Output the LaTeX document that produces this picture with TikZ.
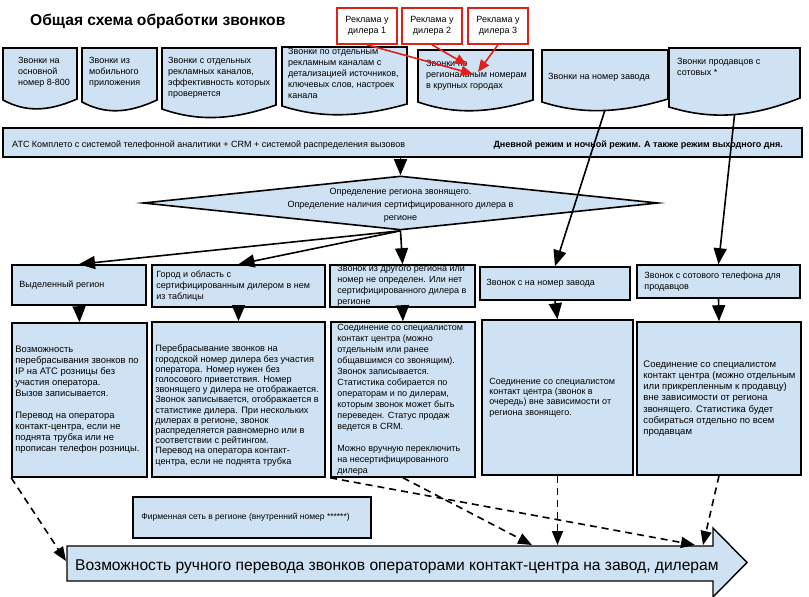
\documentclass[tikz,border=0pt]{standalone}
\usepackage{fontspec}
\setmainfont{Liberation Sans}
\usetikzlibrary{arrows.meta,shapes.geometric}
\definecolor{callblue}{HTML}{CFE2F3}
\definecolor{adred}{HTML}{E0201B}
\newcommand{\callsheet}[6]{
	\draw[sheet] (#2,#3) -- (#4,#3) -- (#4,#6) .. controls ({#2+0.6*(#4-#2)},{#5+12}) and ({#2+0.3*(#4-#2)},{#5+12}) .. (#2,#5) -- cycle;
	\coordinate (#1) at ({(#2+#4)/2},{#5+8});
}
\begin{document}
\begin{tikzpicture}[x=1pt,y=-1pt,
		every node/.style={inner sep=0pt,font=\fontsize{9}{11}\selectfont},
		sheet/.style={draw=black,line width=1.6pt,fill=callblue},
		callbox/.style={draw=black,line width=1.6pt,fill=callblue},
		regiondiamond/.style={diamond,draw=black,line width=1.6pt,fill=callblue},
		adbox/.style={draw=adred,line width=1.6pt,fill=white,align=center,minimum width=60pt,minimum height=36pt},
		boxtext/.style={anchor=west,align=left},
		sheettext/.style={anchor=north west,align=left},
		flow/.style={draw=black,line width=1.6pt,-{Triangle[length=16pt,width=13pt]}},
		adflow/.style={draw=adred,line width=1.6pt,-{Triangle[length=12pt,width=10pt]}},
		handover/.style={draw=black,line width=1.6pt,dash pattern=on 7pt off 5pt,-{Triangle[length=14pt,width=11pt]}}]
	\useasboundingbox (0,0) rectangle (809,597);
	\node[anchor=base west,font=\fontsize{15.6}{18}\selectfont\bfseries] (title) at (30,25) {Общая схема обработки звонков};
	\callsheet{sheet1}{3}{48}{77}{100}{99}
	\node[sheettext] (sheet1t) at (18,57) {Звонки на\\основной\\номер 8-800};
	\callsheet{sheet2}{82}{48}{157}{102}{100}
	\node[sheettext] (sheet2t) at (89,57) {Звонки из\\мобильного\\приложения};
	\callsheet{sheet3}{162}{48}{276}{109}{105}
	\node[sheettext] (sheet3t) at (168,57) {Звонки с отдельных\\рекламных каналов,\\эффективность которых\\проверяется};
	\callsheet{sheet4}{282}{47}{407}{106}{104}
	\node[sheettext] (sheet4t) at (288,48) {Звонки по отдельным\\рекламным каналам с\\детализацией источников,\\ключевых слов, настроек\\канала};
	\callsheet{sheet5}{418}{50}{533}{102}{100}
	\node[sheettext] (sheet5t) at (426,60) {Звонки по\\региональным номерам\\в крупных городах};
	\callsheet{sheet6}{542}{50}{668}{102}{99}
	\node[anchor=base west] (sheet6t) at (548,79) {Звонки на номер завода};
	\callsheet{sheet7}{669}{48}{800}{107}{98}
	\node[sheettext] (sheet7t) at (677,58) {Звонки продавцов с\\сотовых *};
	\node[adbox] (ad1) at (367,26) {Реклама у\\дилера 1};
	\node[adbox] (ad2) at (432,26) {Реклама у\\дилера 2};
	\node[adbox] (ad3) at (498,26) {Реклама у\\дилера 3};
	\coordinate (adhit1) at (473,74);
	\coordinate (adhit2) at (467,65);
	\coordinate (adhit3) at (478,72);
	\draw[adflow] (ad1.south) -- (adhit1);
	\draw[adflow] (ad2.south) -- (adhit2);
	\draw[adflow] (ad3.south) -- (adhit3);
	\node[callbox,minimum width=799pt,minimum height=29pt] (ats) at (402.5,142.5) {};
	\node[anchor=base west] (atsleft) at (12,147) {АТС Комплето с системой телефонной аналитики + CRM + системой распределения вызовов};
	\node[anchor=base east,font=\fontsize{9}{11}\selectfont\bfseries] (atsright) at (783,147) {Дневной режим и ночной режим. А также режим выходного дня.};
	\node[regiondiamond,minimum width=515pt,minimum height=54pt] (region) at (400.5,203) {};
	\node[align=center,font=\fontsize{9}{13}\selectfont] (regiont) at ([yshift=-2pt]region.center) {Определение региона звонящего.\\Определение наличия сертифицированного дилера в\\регионе};
	\node[callbox,minimum width=134pt,minimum height=40pt] (reg1) at (79,285) {};
	\node[boxtext] (reg1t) at ([xshift=8pt]reg1.west) {Выделенный регион};
	\node[callbox,minimum width=173pt,minimum height=42pt] (reg2) at (238.5,286) {};
	\node[boxtext] (reg2t) at ([xshift=5pt]reg2.west) {Город и область с\\сертифицированным дилером в нем\\из таблицы};
	\node[callbox,minimum width=145pt,minimum height=42pt] (reg3) at (402.5,286) {};
	\node[boxtext] (reg3t) at ([xshift=8pt]reg3.west) {Звонок из другого региона или\\номер не определен. Или нет\\сертифицированного дилера в\\регионе};
	\node[callbox,minimum width=150pt,minimum height=33pt] (reg4) at (555,283.5) {};
	\node[boxtext] (reg4t) at ([xshift=7pt]reg4.west) {Звонок с на номер завода};
	\node[callbox,minimum width=163pt,minimum height=33pt] (reg5) at (718.5,281.5) {};
	\node[boxtext] (reg5t) at ([xshift=8pt]reg5.west) {Звонок с сотового телефона для\\продавцов};
	\node[callbox,minimum width=135pt,minimum height=154pt] (low1) at (79.5,400) {};
	\node[boxtext,font=\fontsize{9.4}{11}\selectfont] (low1t) at ([xshift=4pt]low1.west) {Возможность\\перебрасывания звонков по\\IP на АТС розницы без\\участия оператора.\\Вызов записывается.\\[11pt]Перевод на оператора\\контакт-центра, если не\\поднята трубка или не\\прописан телефон розницы.};
	\node[callbox,minimum width=173pt,minimum height=155pt] (low2) at (238.5,399.5) {};
	\node[boxtext,font=\fontsize{9.2}{10.2}\selectfont] (low2t) at ([xshift=4pt,yshift=-6pt]low2.west) {Перебрасывание звонков на\\городской номер дилера без участия\\оператора. Номер нужен без\\голосового приветствия. Номер\\звонящего у дилера не отображается.\\Звонок записывается, отображается в\\статистике дилера. При нескольких\\дилерах в регионе, звонок\\распределяется равномерно или в\\соответствии с рейтингом.\\Перевод на оператора контакт-\\центра, если не поднята трубка};
	\node[callbox,minimum width=144pt,minimum height=155pt] (low3) at (403,399.5) {};
	\node[boxtext] (low3t) at ([xshift=7pt]low3.west) {Соединение со специалистом\\контакт центра (можно\\отдельным или ранее\\общавшимся со звонящим).\\Звонок записывается.\\Статистика собирается по\\операторам и по дилерам,\\которым звонок может быть\\переведен. Статус продаж\\ведется в CRM.\\[11pt]Можно вручную переключить\\на несертифицированного\\дилера};
	\node[callbox,minimum width=151pt,minimum height=155pt] (low4) at (557.5,397.5) {};
	\node[boxtext,font=\fontsize{9}{10.4}\selectfont] (low4t) at ([xshift=8pt]low4.west) {Соединение со специалистом\\контакт центра (звонок в\\очередь) вне зависимости от\\региона звонящего.};
	\node[callbox,minimum width=164pt,minimum height=153pt] (low5) at (719,398.5) {};
	\node[boxtext,font=\fontsize{9.5}{11.2}\selectfont] (low5t) at ([xshift=7pt]low5.west) {Соединение со специалистом\\контакт центра (можно отдельным\\или прикрепленным к продавцу)\\вне зависимости от региона\\звонящего. Статистика будет\\собираться отдельно по всем\\продавцам};
	\draw[flow] (ats.south -| region.north) -- (region.north);
	\draw[flow] (region.south) -- (reg1.north);
	\draw[flow] (region.south) -- (reg2.north);
	\draw[flow] (region.south) -- (reg3.north);
	\draw[flow] (sheet6) -- (reg4.north);
	\draw[flow] (sheet7) -- (reg5.north);
	\draw[flow] (reg1.south) -- (low1.north);
	\draw[flow] (reg2.south) -- (low2.north);
	\draw[flow] (reg3.south) -- (low3.north);
	\draw[flow] (reg4.south) -- (low4.north);
	\draw[flow] (reg5.south) -- (low5.north);
	\node[callbox,minimum width=238pt,minimum height=41pt] (firm) at (252,517.5) {};
	\node[boxtext,font=\fontsize{8.5}{10}\selectfont] (firmt) at ([xshift=9pt]firm.west) {Фирменная сеть в регионе (внутренний номер ******)};
	\draw[callbox,line width=1.4pt] (67,546) -- (713,546) -- (713,528) -- (747,562.5) -- (713,597) -- (713,581) -- (67,581) -- cycle;
	\node[anchor=base west,font=\fontsize{15.6}{18}\selectfont] (manual) at (75,570) {Возможность ручного перевода звонков операторами контакт-центра на завод, дилерам};
	\coordinate (mleft) at (66,561);
	\coordinate (mtop1) at (532,545);
	\coordinate (mtop2) at (695,545);
	\coordinate (mtop3) at (703,545);
	\draw[handover] (low1.south west) -- (mleft);
	\draw[handover] (low3.south west) -- (mtop2);
	\draw[handover] (low3.south) -- (mtop1);
	\draw[handover] (low4.south) -- (low4.south |- mtop1);
	\draw[handover] (low5.south) -- (mtop3);
\end{tikzpicture}
\end{document}
